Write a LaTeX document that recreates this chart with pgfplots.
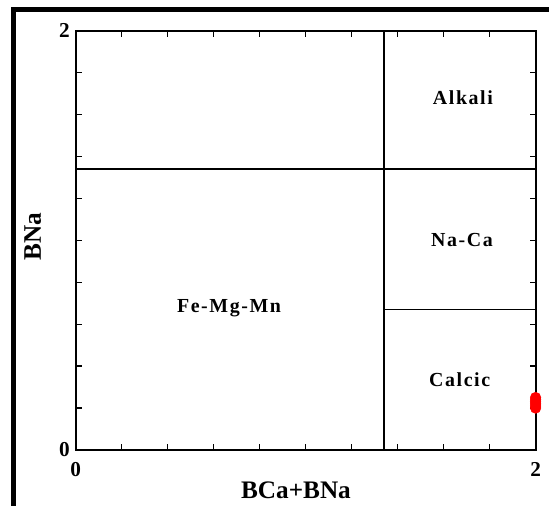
\documentclass[border=0pt]{standalone}
\usepackage{fontspec}
\setmainfont{Liberation Serif}
\newfontfamily\spaced[LetterSpace=8]{Liberation Serif}
\usepackage{pgfplots}
\pgfplotsset{compat=1.18}

\begin{document}
\begin{tikzpicture}
\begin{axis}[
    scale only axis,
    width=346.5pt,
    height=315.75pt,
    xmin=0, xmax=2,
    ymin=0, ymax=2,
    xtick={0,2},
    ytick={0,2},
    minor xtick={0.2,0.4,...,1.8},
    minor ytick={0.2,0.4,...,1.8},
    tick pos=both,
    xticklabel pos=lower,
    yticklabel pos=left,
    tick align=inside,
    minor tick length=4.5pt,
    major tick length=0pt,
    axis line style={line width=1.5pt},
    every tick/.style={black, line width=1pt},
    tick label style={font=\fontsize{16}{16}\selectfont\bfseries},
    /pgf/number format/assume math mode=true,
    xticklabel style={yshift=-6pt},
    yticklabel style={xshift=-1pt},
    clip=false,
]
% classification boundaries
\addplot[black, line width=1.1pt] coordinates {(1.34,0) (1.34,2)};
\addplot[black, line width=1.1pt] coordinates {(0,1.34) (2,1.34)};
\addplot[black, line width=1.1pt] coordinates {(1.34,0.67) (2,0.67)};

% sample
\addplot[only marks, mark=*, mark size=4pt, red, mark options={fill=red, draw=red}]
    coordinates {(2,0.20) (2,0.21) (2,0.22) (2,0.23) (2,0.24) (2,0.25)};

\node[font=\spaced\fontsize{15}{15}\selectfont\bfseries] at (axis cs:1.684,1.682) {Alkali};
\node[font=\spaced\fontsize{15}{15}\selectfont\bfseries] at (axis cs:1.68,1.00) {Na-Ca};
\node[font=\spaced\fontsize{15}{15}\selectfont\bfseries] at (axis cs:1.67,0.337) {Calcic};
\node[font=\spaced\fontsize{15}{15}\selectfont\bfseries] at (axis cs:0.667,0.675) {Fe-Mg-Mn};

\coordinate (O) at (rel axis cs:0,0);
\end{axis}
% axis titles
\node[font=\fontsize{19}{19}\selectfont\bfseries] at ([shift={(166pt,-30pt)}]O) {BCa+BNa};
\node[font=\fontsize{19}{19}\selectfont\bfseries, rotate=90] at ([shift={(-32.25pt,160.5pt)}]O) {BNa};
% outer frame
\draw[line width=3.75pt] ([shift={(-46.9pt,-42pt)}]O) -- ([shift={(-46.9pt,331.9pt)}]O) -- ([shift={(356.25pt,331.9pt)}]O);
\path[use as bounding box] ([shift={(-57pt,-42pt)}]O) rectangle ([shift={(356.25pt,339pt)}]O);
\end{tikzpicture}
\end{document}
